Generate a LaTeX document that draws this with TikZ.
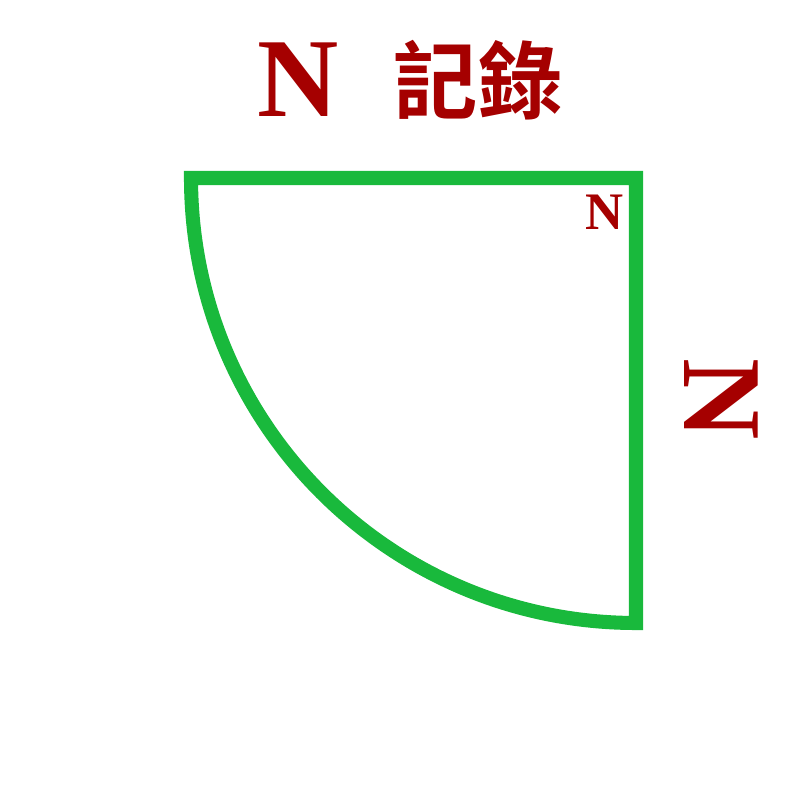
\documentclass[tikz,border=0pt]{standalone}
\usepackage{fontspec}
\setmainfont{Liberation Serif}
\newfontfamily\cjk{Noto Sans CJK TC Bold}
\usetikzlibrary{positioning}
\definecolor{recred}{RGB}{165,0,0}
\definecolor{recgreen}{RGB}{25,185,60}

\begin{document}
\begin{tikzpicture}[
	redlbl/.style={text=recred, inner sep=0pt},
	sector/.style={draw=recgreen, line width=4pt, line join=miter}
]
	\useasboundingbox (0,0) rectangle (8,8);

	% quarter sector
	\coordinate (corner) at (6.36,6.22);
	\coordinate (left) at (1.91,6.22);
	\draw[sector] (corner) -- (left) arc[start angle=180, end angle=270, radius=4.45] -- cycle;

	% labels
	\node[redlbl, font=\fontsize{32}{32}\selectfont\bfseries] (bigN) at (2.98,7.2) {N};
	\node[redlbl, font=\fontsize{24}{24}\selectfont\cjk] (rec) at (4.78,7.2) {記錄};
	\node[redlbl, font=\fontsize{15}{15}\selectfont\bfseries] (smallN) at (6.05,5.88) {N};
	\node[redlbl, font=\fontsize{32}{32}\selectfont\bfseries, rotate=-90] (sideN) at (7.21,4.01) {N};
\end{tikzpicture}
\end{document}
